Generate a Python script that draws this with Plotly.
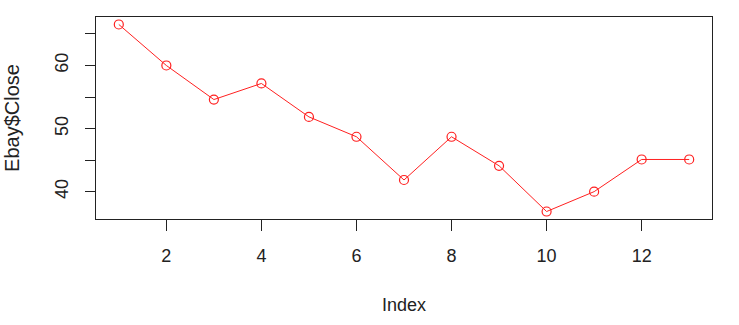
import plotly.graph_objects as go

index = list(range(1, 14))
close = [66.5, 60.0, 54.6, 57.15, 51.85, 48.7, 41.85, 48.7, 44.1, 36.85, 40.0, 45.1, 45.1]
x_ticks = [2, 4, 6, 8, 10, 12]
y_ticks = [40, 45, 50, 55, 60, 65]
y_tick_labels = ["40", "", "50", "", "60", ""]

xmin, xmax = min(index), max(index)
ymin, ymax = min(close), max(close)
dx = (xmax - xmin) * 0.04
dy = (ymax - ymin) * 0.04

font = dict(family="Liberation Sans, Arial, sans-serif", size=18, color="#222")

fig = go.Figure(go.Scatter(
    x=index, y=close, mode="lines+markers",
    line=dict(color="#ff2020", width=1),
    marker=dict(symbol="circle-open", size=9, color="#ff2020", line=dict(width=1.2, color="#ff2020")),
))

fig.update_layout(
    width=739, height=325, autosize=False,
    margin=dict(l=96, r=27, t=17, b=106),
    paper_bgcolor="white", plot_bgcolor="white",
    showlegend=False, font=font,
)
fig.update_xaxes(
    range=[xmin - dx, xmax + dx], tickvals=x_ticks, ticktext=[str(v) for v in x_ticks],
    showgrid=False, zeroline=False, showline=True, mirror=True, linecolor="#222", linewidth=1.2,
    ticks="outside", ticklen=11, tickwidth=1.2, tickcolor="#222", ticklabelstandoff=9,
    title=dict(text="Index", standoff=33, font=font),
)
fig.update_yaxes(
    range=[ymin - dy, ymax + dy], tickvals=y_ticks, ticktext=y_tick_labels, tickangle=-90,
    showgrid=False, zeroline=False, showline=True, mirror=True, linecolor="#222", linewidth=1.2,
    ticks="outside", ticklen=10, tickwidth=1.2, tickcolor="#222", ticklabelstandoff=10,
    title=dict(text="Ebay$Close", standoff=26, font=dict(family=font["family"], size=20, color="#222")),
)

fig.write_html("out.html")
